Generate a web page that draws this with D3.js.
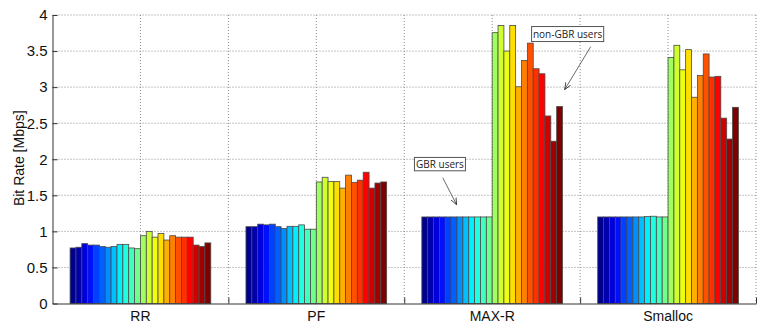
<!DOCTYPE html>
<html>
<head>
<meta charset="utf-8">
<script src="https://cdn.jsdelivr.net/npm/d3@7"></script>
<style>
  body { margin: 0; background: #fff; }
  svg { display: block; font-family: "Liberation Sans", Arial, sans-serif; }
  .grid line { stroke: #8a8a8a; stroke-width: 1; stroke-dasharray: 1,2; }
  .axis path, .axis line { stroke: #333; }
  .axis text { fill: #111; }
</style>
</head>
<body>
<svg id="chart" width="766" height="327"></svg>
<script>
var schemes = ["RR", "PF", "MAX-R", "Smalloc"]

// 12 GBR users followed by 12 non-GBR users, per scheme
var rr = [0.77, 0.78, 0.83, 0.81, 0.81, 0.79, 0.78, 0.79, 0.82, 0.82, 0.77, 0.76,
          0.94, 1.00, 0.92, 0.97, 0.88, 0.94, 0.92, 0.92, 0.92, 0.81, 0.79, 0.84]
var pf = [1.065, 1.065, 1.10, 1.09, 1.10, 1.065, 1.04, 1.07, 1.07, 1.09, 1.03, 1.03,
          1.685, 1.75, 1.69, 1.69, 1.60, 1.78, 1.68, 1.71, 1.82, 1.60, 1.67, 1.685]
var maxr = [1.2, 1.2, 1.2, 1.2, 1.2, 1.2, 1.2, 1.2, 1.2, 1.2, 1.2, 1.2,
            3.755, 3.855, 3.50, 3.855, 3.005, 3.37, 3.61, 3.255, 3.185, 2.60, 2.25, 2.73]
var smalloc = [1.2, 1.2, 1.2, 1.2, 1.2, 1.2, 1.2, 1.2, 1.205, 1.21, 1.2, 1.2,
               3.41, 3.58, 3.24, 3.52, 2.86, 3.16, 3.46, 3.14, 3.15, 2.57, 2.28, 2.72]

var yTicks = [0, 0.5, 1, 1.5, 2, 2.5, 3, 3.5, 4]
var yTickLabels = ["0", "0.5", "1", "1.5", "2", "2.5", "3", "3.5", "4"]
var xGridTicks = [1, 1.5, 2, 2.5, 3, 3.5, 4, 4.5]

var values = [rr, pf, maxr, smalloc]
var nUsers = rr.length

// MATLAB style jet colormap
function jet(m) {
    var n = Math.ceil(m / 4)
    var u = []
    for (var i = 1; i <= n; i++) u.push(i / n)
    for (var i = 1; i < n; i++) u.push(1)
    for (var i = n; i >= 1; i--) u.push(i / n)
    var g0 = Math.ceil(n / 2) - (m % 4 === 1 ? 1 : 0)
    var J = d3.range(m).map(function () { return [0, 0, 0] })
    u.forEach(function (v, k) {
        var g = g0 + k + 1, r = g + n, b = g - n
        if (r >= 1 && r <= m) J[r - 1][0] = v
        if (g >= 1 && g <= m) J[g - 1][1] = v
        if (b >= 1 && b <= m) J[b - 1][2] = v
    })
    return J.map(function (c) { return d3.rgb(c[0] * 255, c[1] * 255, c[2] * 255).formatHex() })
}
var cmap = jet(64)
function userColor(i) {
    return cmap[Math.min(63, Math.floor(i / (nUsers - 1) * 64))]
}

var svg = d3.select("#chart")
var mLeft = 52.5, mRight = 756, mTop = 15, mBottom = 303.5

var x = d3.scaleLinear().domain([0.5, 4.5]).range([mLeft, mRight])
var y = d3.scaleLinear().domain([0, 4]).range([mBottom, mTop])
var inner = d3.scaleBand().domain(d3.range(nUsers)).range([-0.4, 0.4]).padding(0)
var barW = x(inner.bandwidth()) - x(0)

// grid
var grid = svg.append("g").attr("class", "grid")
grid.selectAll(".hg")
    .data(yTicks.slice(1))
    .enter().append("line")
    .attr("x1", mLeft).attr("x2", mRight)
    .attr("y1", function (d) { return y(d) })
    .attr("y2", function (d) { return y(d) })
grid.selectAll(".vg")
    .data(xGridTicks)
    .enter().append("line")
    .attr("y1", mTop).attr("y2", mBottom)
    .attr("x1", function (d) { return x(d) })
    .attr("x2", function (d) { return x(d) })

// bars
var groups = svg.selectAll(".group")
    .data(values)
    .enter().append("g")
    .attr("class", "group")

groups.selectAll("rect")
    .data(function (d, gi) { return d.map(function (v, i) { return { g: gi + 1, i: i, v: v } }) })
    .enter().append("rect")
    .attr("x", function (d) { return x(d.g + inner(d.i)) })
    .attr("y", function (d) { return y(d.v) })
    .attr("width", barW)
    .attr("height", function (d) { return y(0) - y(d.v) })
    .attr("fill", function (d) { return userColor(d.i) })
    .attr("stroke", "#4a4a4a")
    .attr("stroke-width", 0.8)

// axes
svg.append("g")
    .attr("class", "axis")
    .attr("transform", "translate(" + mLeft + ",0)")
    .call(d3.axisLeft(y).tickValues(yTicks)
        .tickFormat(function (d, i) { return yTickLabels[i] })
        .tickSizeInner(-5).tickSizeOuter(0).tickPadding(5))
    .call(function (g) { g.selectAll("text").attr("font-size", 15).attr("font-family", null) })

svg.append("g")
    .attr("class", "axis")
    .attr("transform", "translate(0," + mBottom + ")")
    .call(d3.axisBottom(x).tickValues([1.5, 2.5, 3.5, 4.5])
        .tickFormat("").tickSizeInner(-6).tickSizeOuter(0))

svg.append("g")
    .attr("class", "axis")
    .selectAll("text")
    .data(schemes)
    .enter().append("text")
    .attr("x", function (d, i) { return x(i + 1) })
    .attr("y", 321)
    .attr("text-anchor", "middle")
    .attr("font-size", 14)
    .text(function (d) { return d })

svg.append("text")
    .attr("transform", "translate(19," + ((mTop + mBottom) / 2 - 1) + ") rotate(-90)")
    .attr("text-anchor", "middle")
    .attr("dy", "0.35em")
    .attr("font-size", 14)
    .attr("fill", "#111")
    .text("Bit Rate [Mbps]")

// annotations (data coordinates)
var notes = [
    { text: "GBR users", x0: 2.558, x1: 2.848, y0: 2.025, y1: 1.84, ax0: 2.719, ay0: 1.743, ax1: 2.798, ay1: 1.368 },
    { text: "non-GBR users", x0: 3.224, x1: 3.634, y0: 3.84, y1: 3.632, ax0: 3.560, ay0: 3.56, ax1: 3.412, ay1: 2.965 }
]

svg.append("defs").append("marker")
    .attr("id", "arrow")
    .attr("viewBox", "0 0 10 10")
    .attr("refX", 10).attr("refY", 5)
    .attr("markerWidth", 7).attr("markerHeight", 7)
    .attr("markerUnits", "userSpaceOnUse")
    .attr("orient", "auto")
    .append("path")
    .attr("d", "M0,1 L10,5 L0,9")
    .attr("fill", "none")
    .attr("stroke", "#333")
    .attr("stroke-width", 1.2)

var note = svg.selectAll(".note")
    .data(notes)
    .enter().append("g")
    .attr("class", "note")

note.append("line")
    .attr("x1", function (d) { return x(d.ax0) })
    .attr("y1", function (d) { return y(d.ay0) })
    .attr("x2", function (d) { return x(d.ax1) })
    .attr("y2", function (d) { return y(d.ay1) })
    .attr("stroke", "#444")
    .attr("stroke-width", 0.8)
    .attr("marker-end", "url(#arrow)")

note.append("rect")
    .attr("x", function (d) { return x(d.x0) })
    .attr("y", function (d) { return y(d.y0) })
    .attr("width", function (d) { return x(d.x1) - x(d.x0) })
    .attr("height", function (d) { return y(d.y1) - y(d.y0) })
    .attr("fill", "#fff")
    .attr("stroke", "#555")
    .attr("stroke-width", 1)

note.append("text")
    .attr("x", function (d) { return (x(d.x0) + x(d.x1)) / 2 })
    .attr("y", function (d) { return (y(d.y0) + y(d.y1)) / 2 + 3.5 })
    .attr("text-anchor", "middle")
    .attr("font-family", "'Open Sans', sans-serif")
    .attr("font-size", 10)
    .attr("fill", "#222")
    .text(function (d) { return d.text })
</script>
</body>
</html>
